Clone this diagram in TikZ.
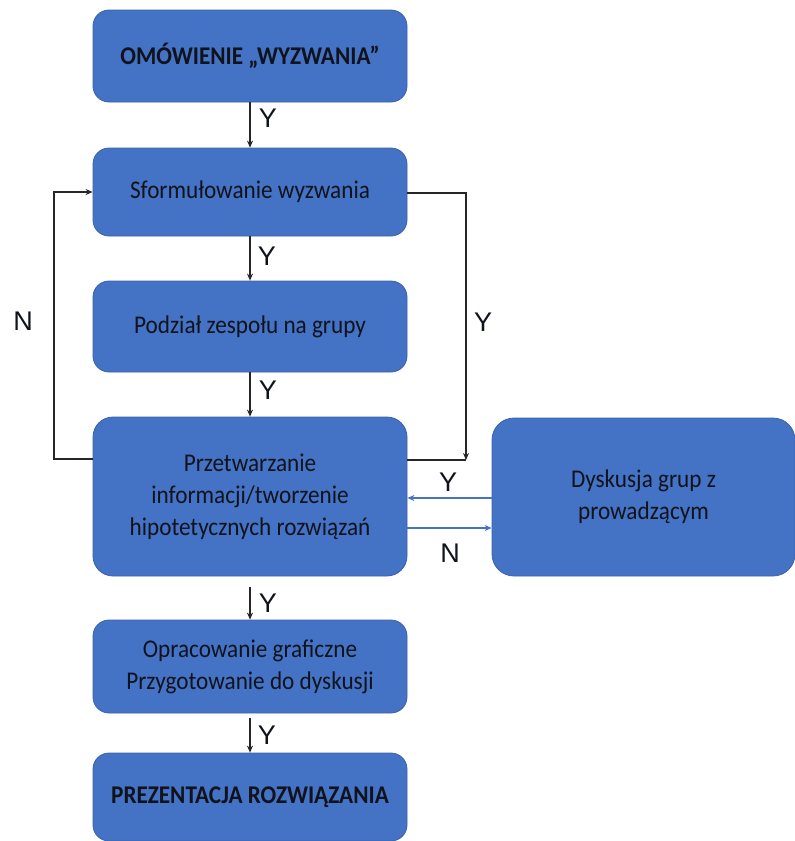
\documentclass[tikz,border=0pt]{standalone}
\usepackage{fontspec}
\setmainfont{Carlito}[FakeStretch=0.91]
\newfontfamily\lblfont{Liberation Sans}
\usetikzlibrary{arrows.meta}
\definecolor{boxblue}{HTML}{4472C4}
\definecolor{boxedge}{HTML}{3A62AC}
\definecolor{txt}{HTML}{10131C}
\begin{document}
\begin{tikzpicture}[x=1pt,y=-1pt,
  blk/.style={rectangle, rounded corners=16pt, fill=boxblue, draw=boxedge, line width=0.8pt,
     text=txt, align=center, font=\fontsize{25.5}{32}\selectfont, inner sep=0pt},
  lbl/.style={font=\lblfont\fontsize{27}{30}\selectfont, text=txt, inner sep=0pt},
  conn/.style={draw=black!85, line width=1.2pt},
  arr/.style={conn, -{Stealth[length=7pt,width=6pt]}},
  barr/.style={draw=boxblue, line width=1.2pt, -{Stealth[length=7pt,width=6pt]}}]
\useasboundingbox (0,0) rectangle (795,841);
\node[blk, minimum width=314pt, minimum height=92pt] (b1) at (250,56) {\textbf{OMÓWIENIE „WYZWANIA”}};
\node[blk, minimum width=314pt, minimum height=88pt] (b2) at (250,192) {Sformułowanie wyzwania};
\node[blk, minimum width=314pt, minimum height=91pt] (b3) at (250,326.5) {Podział zespołu na grupy};
\node[blk, minimum width=314pt, minimum height=159pt, rounded corners=20pt] (b4) at (250,496.5) {Przetwarzanie\\informacji/tworzenie\\hipotetycznych rozwiązań};
\node[blk, minimum width=303pt, minimum height=158pt, rounded corners=22pt] (b5) at (643.5,497) {Dyskusja grup z\\prowadzącym};
\node[blk, minimum width=314pt, minimum height=93pt] (b6) at (250,666.5) {Opracowanie graficzne\\Przygotowanie do dyskusji};
\node[blk, minimum width=314pt, minimum height=88pt] (b7) at (250,797) {\textbf{PREZENTACJA ROZWIĄZANIA}};

\draw[arr] (b1.south) -- (b2.north);
\draw[arr] (b2.south) -- (b3.north);
\draw[arr] (b3.south) -- (b4.north);
\draw[arr] ([yshift=-11pt]b4.south) -- (b6.north);
\draw[arr] ([yshift=-5pt]b6.south) -- (b7.north);

\coordinate (lc) at (54,459);
\draw[arr] ([yshift=37.5pt]b4.west) -- (lc) |- (b2.west);
\coordinate (rc) at (466,460);
\draw[arr] ([yshift=-1pt]b2.east) -| (rc);
\draw[conn] ([yshift=36.5pt]b4.east) -- (rc);

\draw[barr] ([yshift=-1pt]b5.west) -- ([yshift=-1.5pt]b4.east);
\draw[barr] ([yshift=-31.5pt]b4.east) -- ([yshift=-31pt]b5.west);

\node[lbl] (y1) at (268,118) {Y};
\node[lbl] (y2) at (267,256) {Y};
\node[lbl] (y3) at (268,390) {Y};
\node[lbl] (y4) at (268,603) {Y};
\node[lbl] (y5) at (267,735) {Y};
\node[lbl] (yr) at (483,322) {Y};
\node[lbl] (nl) at (23,321) {N};
\node[lbl] (yb) at (448,482) {Y};
\node[lbl] (nb) at (450,553) {N};
\end{tikzpicture}
\end{document}
